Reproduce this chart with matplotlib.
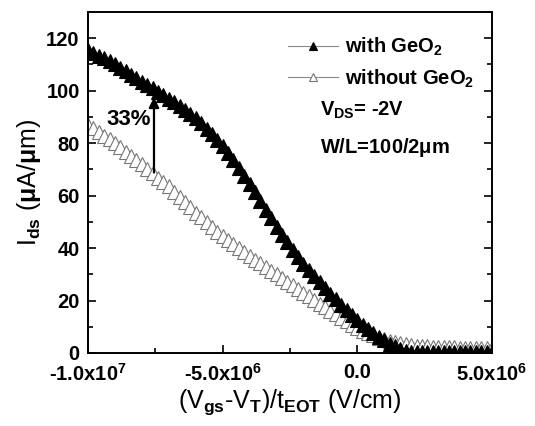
import numpy as np
import matplotlib
matplotlib.use('Agg')
import matplotlib.pyplot as plt
from matplotlib.ticker import MultipleLocator, FuncFormatter

plt.rcParams['font.family'] = ['Liberation Sans', 'DejaVu Sans']
plt.rcParams['font.weight'] = 'bold'
plt.rcParams['mathtext.fontset'] = 'custom'
plt.rcParams['mathtext.rm'] = 'Liberation Sans:bold'
plt.rcParams['mathtext.it'] = 'Liberation Sans:bold'
plt.rcParams['mathtext.bf'] = 'Liberation Sans:bold'

# sweep field (V/cm), 0.2e6 steps from -1e7 to 5e6
field = np.arange(76) * 2e5 - 1e7

# Ids (uA/um) with GeO2 interlayer
ids_with = [115.5, 114.5, 113.4, 112.3, 111.2, 110.0,
            108.7, 107.4, 106.1, 104.8, 103.5,
            102.2, 100.9, 99.6, 98.3, 97.0,
            95.6, 94.1, 92.6, 91.1, 89.5,
            87.6, 85.5, 83.4, 81.2, 79.0,
            76.4, 73.6, 70.7, 67.6, 64.5,
            61.2, 57.9, 54.6, 51.3, 48.0,
            45.1, 42.2, 39.4, 36.6, 34.0,
            31.6, 29.3, 27.0, 24.7, 22.5,
            20.4, 18.4, 16.3, 14.4, 12.5,
            10.8, 9.1, 7.6, 6.1, 4.8,
            3.6, 2.5, 1.5, 0.8, 0.4,
            0.3, 0.3, 0.3, 0.3, 0.3, 0.3, 0.3, 0.3,
            0.3, 0.3, 0.3, 0.3, 0.3, 0.3, 0.3]

# Ids (uA/um) without GeO2
ids_without = [87.0, 85.6, 84.2, 82.8, 81.4, 80.0,
               78.4, 76.8, 75.2, 73.6, 72.0,
               70.3, 68.6, 66.9, 65.2, 63.5,
               61.5, 59.5, 57.5, 55.5, 53.5,
               51.7, 49.9, 48.1, 46.3, 44.5,
               43.0, 41.5, 40.0, 38.5, 37.0,
               35.6, 34.2, 32.8, 31.4, 30.0,
               28.6, 27.2, 25.8, 24.4, 23.0,
               21.6, 20.2, 18.8, 17.4, 16.0,
               14.7, 13.4, 12.1, 10.8, 9.5,
               8.5, 7.6, 6.7, 5.9, 5.2,
               4.7, 4.2, 3.8, 3.4, 3.0,
               2.8, 2.6, 2.5, 2.4, 2.3, 2.2, 2.1, 2.1,
               2.0, 2.0, 1.9, 1.9, 1.8, 1.8, 1.8]

# arrow showing the 33% gain
arrow_x = -7.55e6
arrow_from = 68.8
arrow_to = 97.5

fig = plt.figure(figsize=(5.35, 4.26), dpi=100)
ax = fig.add_axes([0.1645, 0.1714, 0.7551, 0.8004])

ax.plot(field, ids_without, color='#888888', lw=0.8, marker='^', ms=9.5,
        mfc='white', mec='#777777', mew=0.8, label='without GeO$_2$', zorder=2)
ax.plot(field, ids_with, color='#888888', lw=0.8, marker='^', ms=9.5,
        mfc='black', mec='black', mew=0.8, label='with GeO$_2$', zorder=3)

ax.annotate('', xy=(arrow_x, arrow_to), xytext=(arrow_x, arrow_from),
            arrowprops=dict(arrowstyle='-|>', color='black', lw=1.6,
                            mutation_scale=15, shrinkA=0, shrinkB=0))
ax.text(arrow_x - 1.2e5, 89.2, '33%', ha='right', va='center', fontsize=16,
        fontweight='bold')

handles, labels = ax.get_legend_handles_labels()
leg = ax.legend(handles[::-1], labels[::-1], loc='upper left',
                bbox_to_anchor=(0.495, 0.93), frameon=False, fontsize=14.5,
                handlelength=2.5, handletextpad=0.35, labelspacing=0.45,
                borderaxespad=0, borderpad=0, markerscale=0.65)

ax.text(0.574, 0.713, 'V$_{DS}$= -2V', transform=ax.transAxes, fontsize=14.5,
        va='center')
ax.text(0.574, 0.604, 'W/L=100/2$\\mu$m', transform=ax.transAxes,
        fontsize=14.5, va='center')

ax.set_xlim(-1e7, 5e6)
ax.set_ylim(0, 130)
ax.xaxis.set_major_locator(MultipleLocator(5e6))
ax.xaxis.set_minor_locator(MultipleLocator(2.5e6))
ax.yaxis.set_major_locator(MultipleLocator(20))
ax.yaxis.set_minor_locator(MultipleLocator(10))


def fmt(v, pos):
    if abs(v) < 1:
        return '0.0'
    e = int(np.floor(np.log10(abs(v))))
    m = v / 10 ** e
    return '%.1fx10$^{%d}$' % (m, e)


ax.xaxis.set_major_formatter(FuncFormatter(fmt))
ax.tick_params(which='both', direction='in', top=False, right=True,
               labelsize=14.5, width=1.2)
ax.tick_params(which='major', length=6)
ax.tick_params(axis='x', which='major', pad=7)
ax.tick_params(axis='y', which='major', pad=6)
ax.tick_params(which='minor', length=3.5)
for s in ax.spines.values():
    s.set_linewidth(1.4)

ax.set_xlabel('(V$_{gs}$-V$_T$)/t$_{EOT}$ (V/cm)', fontsize=18, labelpad=2)
ax.set_ylabel('I$_{ds}$ ($\\mu$A/$\\mu$m)', fontsize=18, labelpad=2)

fig.savefig('out.png', dpi=100)
